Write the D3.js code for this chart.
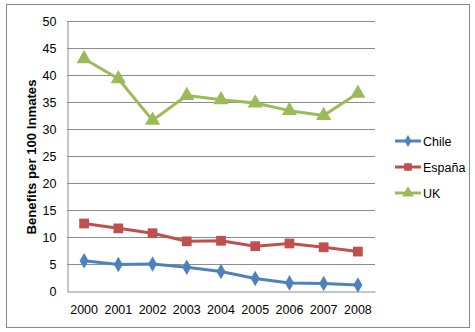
<!DOCTYPE html>
<html>
<head>
<meta charset="utf-8">
<script src="https://cdn.jsdelivr.net/npm/d3@7/dist/d3.min.js"></script>
<style>
  html, body { margin: 0; padding: 0; background: #fff; }
  svg { display: block; }
  text { font-family: "Liberation Sans Narrow", "Liberation Sans", Arial, sans-serif; fill: #000; }
</style>
</head>
<body>
<svg id="chart" width="475" height="332"></svg>
<script>
const years = ["2000","2001","2002","2003","2004","2005","2006","2007","2008"];
const chile = [5.6, 4.9, 5.0, 4.4, 3.6, 2.3, 1.5, 1.4, 1.1];
const espana = [12.5, 11.6, 10.7, 9.2, 9.3, 8.3, 8.8, 8.1, 7.3];
const uk = [43.0, 39.3, 31.6, 36.2, 35.4, 34.8, 33.4, 32.5, 36.6];
const yTicks = [0, 5, 10, 15, 20, 25, 30, 35, 40, 45, 50];
const seriesNames = ["Chile", "España", "UK"];
const seriesColors = ["#4F81BD", "#C0504D", "#9BBB59"];
const seriesShapes = [d3.symbolDiamond, d3.symbolSquare, d3.symbolTriangle];

const series = seriesNames.map((name, i) => ({
  name, color: seriesColors[i], shape: seriesShapes[i],
  values: [chile, espana, uk][i]
}));

const svg = d3.select("#chart");
const plot = { left: 67, right: 375, top: 21, bottom: 291 };

// chart frame
svg.append("rect")
  .attr("x", 6.5).attr("y", 4.5).attr("width", 463).attr("height", 323)
  .attr("fill", "#fff").attr("stroke", "#888").attr("stroke-width", 1);

const x = d3.scaleBand().domain(years).range([plot.left, plot.right]);
const y = d3.scaleLinear().domain([0, 50]).range([plot.bottom, plot.top]);

// horizontal gridlines
svg.append("g").selectAll("line").data(yTicks.filter(t => t > 0)).join("line")
  .attr("x1", plot.left).attr("x2", plot.right)
  .attr("y1", d => Math.round(y(d)) + 0.5).attr("y2", d => Math.round(y(d)) + 0.5)
  .attr("stroke", "#8c8c8c").attr("stroke-width", 1);

// y axis
const yAxis = svg.append("g")
  .attr("transform", `translate(${plot.left + 0.5},0)`)
  .call(d3.axisLeft(y).tickValues(yTicks).tickSize(0).tickPadding(11));
yAxis.select(".domain").attr("stroke", "#8c8c8c");
yAxis.selectAll("text").attr("font-size", 12.5)
  .attr("font-family", "'Liberation Sans Narrow', 'Liberation Sans', Arial, sans-serif");

// x axis
const xAxis = svg.append("g")
  .attr("transform", `translate(0,${plot.bottom + 0.5})`)
  .call(d3.axisBottom(x).tickSize(0).tickPadding(14));
xAxis.select(".domain").attr("stroke", "#8c8c8c");
xAxis.selectAll("text").attr("font-size", 12.5)
  .attr("font-family", "'Liberation Sans Narrow', 'Liberation Sans', Arial, sans-serif");

// y axis title
svg.append("text")
  .attr("transform", `translate(36,157) rotate(-90)`)
  .attr("text-anchor", "middle")
  .attr("font-size", 13).attr("font-weight", "bold")
  .attr("textLength", 155).attr("lengthAdjust", "spacingAndGlyphs")
  .text("Benefits per 100 Inmates");

const cx = d => x(d) + x.bandwidth() / 2;
const line = d3.line().x((d, i) => cx(years[i])).y(d => y(d));

const sizes = { Chile: 70, "España": 95, UK: 100 };

series.forEach(s => {
  const g = svg.append("g");
  g.append("path").datum(s.values)
    .attr("d", line).attr("fill", "none")
    .attr("stroke", s.color).attr("stroke-width", 3).attr("stroke-linejoin", "round");
  g.selectAll("path.m").data(s.values).join("path").attr("class", "m")
    .attr("transform", (d, i) => `translate(${cx(years[i])},${y(d)})`)
    .attr("d", d3.symbol().type(s.shape).size(sizes[s.name]))
    .attr("fill", s.color);
});

// legend
const legend = svg.append("g");
const legendY = [141, 167, 193];
series.forEach((s, i) => {
  const g = legend.append("g").attr("transform", `translate(395,${legendY[i]})`);
  g.append("line").attr("x1", 0).attr("x2", 26)
    .attr("stroke", s.color).attr("stroke-width", 3);
  g.append("path").attr("transform", "translate(13,0)")
    .attr("d", d3.symbol().type(s.shape).size(sizes[s.name] * 0.6))
    .attr("fill", s.color);
  g.append("text").attr("x", 28).attr("y", 4.5)
    .attr("font-size", 12.5).text(s.name);
});
</script>
</body>
</html>
